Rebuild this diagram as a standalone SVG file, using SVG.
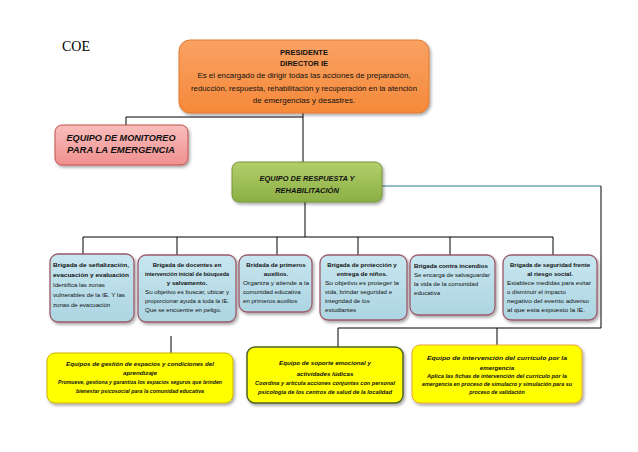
<svg xmlns="http://www.w3.org/2000/svg" width="638" height="452" viewBox="0 0 638 452">
<style>
.t{font-family:"Liberation Sans",Arial,sans-serif;fill:#111}
.b{font-weight:bold}
.bi{font-weight:bold;font-style:italic}
.c{text-anchor:middle}
.ln{stroke:#000;stroke-width:1;fill:none}
.brig{fill:url(#gBlue);stroke:#9A5A6A;stroke-width:1.3}
.bt{font-size:6.1px}
.yt{font-size:6.2px}
</style>
<defs>
<linearGradient id="gOrange" x1="0" y1="0" x2="0" y2="1"><stop offset="0" stop-color="#F9A263"/><stop offset="1" stop-color="#F5893A"/></linearGradient>
<linearGradient id="gPink" x1="0" y1="0" x2="0" y2="1"><stop offset="0" stop-color="#F8BEBC"/><stop offset="1" stop-color="#F0908F"/></linearGradient>
<linearGradient id="gGreen" x1="0" y1="0" x2="0" y2="1"><stop offset="0" stop-color="#B2CF6A"/><stop offset="1" stop-color="#8CAF45"/></linearGradient>
<linearGradient id="gBlue" x1="0" y1="0" x2="0" y2="1"><stop offset="0" stop-color="#C8E6EF"/><stop offset="1" stop-color="#ACD5E2"/></linearGradient>
<filter id="sh" x="-10%" y="-10%" width="130%" height="140%"><feDropShadow dx="1.5" dy="2" stdDeviation="1.5" flood-color="#000" flood-opacity="0.35"/></filter>
</defs>
<rect width="638" height="452" fill="#fff"/>
<text x="62" y="51" style="font-family:'Liberation Serif',serif;font-size:14px" fill="#000">COE</text>

<g id="connectors">
<path class="ln" d="M303 113V162M126 117H303M126 117V125"/>
<path d="M382 186H601" stroke="#2E7A8E" stroke-width="1" fill="none"/>
<path class="ln" d="M601 186V328M338 328H601M338 328V347M497 328V345M171 336V353"/>
<path class="ln" d="M305 202V237M83 237H553M83 237V255M177 237V255M277 237V255M358 237V255M450 237V255M553 237V255"/>
</g>

<g id="presidente">
<rect x="179" y="40" width="250" height="73" rx="11" fill="url(#gOrange)" stroke="#E07A2E" stroke-width="1" filter="url(#sh)"/>
<text class="t b c" x="304" y="55" font-size="7.5">PRESIDENTE</text>
<text class="t b c" x="304" y="66" font-size="7.5">DIRECTOR IE</text>
<text class="t c" x="304" y="78" font-size="8" textLength="213" lengthAdjust="spacingAndGlyphs">Es el encargado de dirigir todas las acciones de preparación,</text>
<text class="t c" x="304" y="91" font-size="8" textLength="226" lengthAdjust="spacingAndGlyphs">reducción, respuesta, rehabilitación y recuperación en la atención</text>
<text class="t c" x="304" y="103" font-size="8">de emergencias y desastres.</text>
</g>

<g id="monitoreo">
<rect x="55" y="125" width="133" height="40" rx="7" fill="url(#gPink)" stroke="#C0504D" stroke-width="1" filter="url(#sh)"/>
<text class="t bi c" x="121" y="141" font-size="9.5" textLength="109" lengthAdjust="spacingAndGlyphs">EQUIPO DE MONITOREO</text>
<text class="t bi c" x="121" y="153" font-size="9.5">PARA LA EMERGENCIA</text>
</g>

<g id="respuesta">
<rect x="232" y="162" width="150" height="40" rx="7" fill="url(#gGreen)" stroke="#77933C" stroke-width="1" filter="url(#sh)"/>
<text class="t bi c" x="307" y="181" font-size="7.5" textLength="95" lengthAdjust="spacingAndGlyphs">EQUIPO DE RESPUESTA Y</text>
<text class="t bi c" x="307" y="193" font-size="7.5">REHABILITACIÓN</text>
</g>

<g id="brigada1">
<rect class="brig" x="50" y="254" width="84" height="68" rx="8" filter="url(#sh)"/>
<text class="t b bt" x="53" y="267" textLength="76" lengthAdjust="spacingAndGlyphs">Brigada de señalización,</text>
<text class="t b bt" x="53" y="277" textLength="76" lengthAdjust="spacingAndGlyphs">evacuación y evaluación</text>
<text class="t bt" x="53" y="287">Identifica las zonas</text>
<text class="t bt" x="53" y="297" textLength="72" lengthAdjust="spacingAndGlyphs">vulnerables de la IE. Y las</text>
<text class="t bt" x="53" y="307">zonas de evacuación</text>
</g>

<g id="brigada2">
<rect class="brig" x="138" y="255" width="98" height="67" rx="8" filter="url(#sh)"/>
<text class="t b bt c" x="187" y="267">Brigada de docentes en</text>
<text class="t b bt c" x="187" y="276" textLength="84" lengthAdjust="spacingAndGlyphs">intervención inicial de búsqueda</text>
<text class="t b bt c" x="187" y="285">y salvamento.</text>
<text class="t bt" x="145" y="294" textLength="84" lengthAdjust="spacingAndGlyphs">Su objetivo es buscar, ubicar y</text>
<text class="t bt" x="145" y="303" textLength="84" lengthAdjust="spacingAndGlyphs">proporcionar ayuda a toda la IE.</text>
<text class="t bt" x="145" y="312">Que se encuentre en peligo.</text>
</g>

<g id="brigada3">
<rect class="brig" x="239" y="255" width="73" height="57" rx="8" filter="url(#sh)"/>
<text class="t b bt c" x="276" y="267">Bridada de primeros</text>
<text class="t b bt c" x="276" y="276">auxilios.</text>
<text class="t bt" x="243" y="285" textLength="66" lengthAdjust="spacingAndGlyphs">Organiza y atiende a la</text>
<text class="t bt" x="243" y="294">comunidad  educativa</text>
<text class="t bt" x="243" y="303">en primeros auxilios</text>
</g>

<g id="brigada4">
<rect class="brig" x="320" y="255" width="87" height="65" rx="8" filter="url(#sh)"/>
<text class="t b bt c" x="362" y="267">Brigada de protección y</text>
<text class="t b bt c" x="362" y="276">entrega de niños.</text>
<text class="t bt" x="325" y="285" textLength="74" lengthAdjust="spacingAndGlyphs">Su objetivo es proteger la</text>
<text class="t bt" x="325" y="294">vida, brindar seguridad e</text>
<text class="t bt" x="325" y="303">integridad de los</text>
<text class="t bt" x="325" y="312">estudiantes</text>
</g>

<g id="brigada5">
<rect class="brig" x="410" y="255" width="85" height="60" rx="8" filter="url(#sh)"/>
<text class="t b bt" x="414" y="268" textLength="74" lengthAdjust="spacingAndGlyphs">Brigada contra incendios</text>
<text class="t bt" x="414" y="277" textLength="76" lengthAdjust="spacingAndGlyphs">Se encarga de salvaguardar</text>
<text class="t bt" x="414" y="286">la vida de la comunidad</text>
<text class="t bt" x="414" y="295">educativa</text>
</g>

<g id="brigada6">
<rect class="brig" x="503" y="255" width="94" height="65" rx="8" filter="url(#sh)"/>
<text class="t b bt c" x="550" y="267" textLength="80" lengthAdjust="spacingAndGlyphs">Brigada de seguridad frente</text>
<text class="t b bt c" x="550" y="276">al riesgo social.</text>
<text class="t bt" x="507" y="285" textLength="84" lengthAdjust="spacingAndGlyphs">Establece medidas para evitar</text>
<text class="t bt" x="507" y="294">o disminuir el impacto</text>
<text class="t bt" x="507" y="303" textLength="82" lengthAdjust="spacingAndGlyphs">negativo del evento adverso</text>
<text class="t bt" x="507" y="312" textLength="78" lengthAdjust="spacingAndGlyphs">al que esta expuesto la IE.</text>
</g>

<g id="gestion">
<rect x="47" y="353" width="186" height="50" rx="8" fill="#FFFF00" stroke="#C8B400" stroke-width="1" filter="url(#sh)"/>
<text class="t bi yt c" x="140" y="366" textLength="148" lengthAdjust="spacingAndGlyphs">Equipos de gestión de espacios y condiciones del</text>
<text class="t bi yt c" x="140" y="375">aprendizaje</text>
<text class="t bi c" x="140" y="384" font-size="5.3" textLength="164" lengthAdjust="spacingAndGlyphs">Promueve, gestiona y garantiza los espacios seguros que brinden</text>
<text class="t bi c" x="140" y="393" font-size="5.3">bienestar psicosocial para la comunidad educativa</text>
</g>

<g id="soporte">
<rect x="247" y="347" width="156" height="56" rx="8" fill="#FFFF00" stroke="#4F6228" stroke-width="1.5" filter="url(#sh)"/>
<text class="t bi yt c" x="325" y="365">Equipo de soporte emocional  y</text>
<text class="t bi yt c" x="325" y="376">actividades  lúdicas</text>
<text class="t bi c" x="325" y="385" font-size="5.3" textLength="140" lengthAdjust="spacingAndGlyphs">Coordina y articula acciones conjuntas con personal</text>
<text class="t bi c" x="325" y="394" font-size="5.3" textLength="134" lengthAdjust="spacingAndGlyphs">psicologia de los centros de salud de la localidad</text>
</g>

<g id="curriculo">
<rect x="412" y="345" width="170" height="58" rx="8" fill="#FFFF00" stroke="#E8A33A" stroke-width="1" filter="url(#sh)"/>
<text class="t bi yt c" x="497" y="360" textLength="140" lengthAdjust="spacingAndGlyphs">Equipo de intervención del currículo por la</text>
<text class="t bi yt c" x="497" y="370">emergencia</text>
<text class="t bi c" x="497" y="378" font-size="5.3" textLength="140" lengthAdjust="spacingAndGlyphs">Aplica las fichas de intervención del currículo por la</text>
<text class="t bi c" x="497" y="386" font-size="5.3" textLength="150" lengthAdjust="spacingAndGlyphs">emergencia en proceso de simulacro y simulación para su</text>
<text class="t bi c" x="497" y="394" font-size="5.3">proceso de validación</text>
</g>
</svg>
